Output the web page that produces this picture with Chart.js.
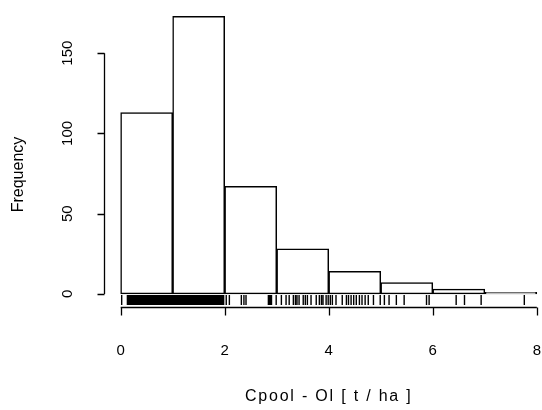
<!DOCTYPE html>
<html>
<head>
<meta charset="utf-8">
<script src="https://cdn.jsdelivr.net/npm/chart.js@4/dist/chart.umd.min.js"></script>
<style>
  html, body { margin:0; padding:0; background:#fff; }
  #wrap { width:542px; height:410px; }
</style>
</head>
<body>
<div id="wrap"><canvas id="hist" width="542" height="410"></canvas></div>
<script>
// histogram bins (Cpool - Ol, t/ha)
const binStarts = [0, 1, 2, 3, 4, 5, 6, 7];
const binWidth = 1;
const counts = [113, 173, 67, 28, 14, 7, 3, 1];

const xTicks = [0, 2, 4, 6, 8];
const yTicks = [0, 50, 100, 150];

// rug marks
const rugValues = [
  0.02, 0.13, 0.15, 0.16, 0.18, 0.2, 0.22, 0.24, 0.25, 0.27, 0.29, 0.31, 0.33, 0.34, 0.36, 0.38,
  0.4, 0.42, 0.44, 0.45, 0.47, 0.49, 0.51, 0.53, 0.55, 0.56, 0.58, 0.6, 0.62, 0.64, 0.66, 0.67,
  0.69, 0.71, 0.73, 0.75, 0.77, 0.78, 0.8, 0.82, 0.84, 0.86, 0.88, 0.89, 0.91, 0.93, 0.95, 0.97,
  0.99, 1.0, 1.02, 1.04, 1.06, 1.08, 1.1, 1.11, 1.13, 1.15, 1.17, 1.19, 1.21, 1.22, 1.24, 1.26,
  1.28, 1.3, 1.32, 1.33, 1.35, 1.37, 1.39, 1.41, 1.43, 1.44, 1.46, 1.48, 1.5, 1.52, 1.54, 1.55,
  1.57, 1.59, 1.61, 1.63, 1.65, 1.66, 1.68, 1.7, 1.72, 1.74, 1.76, 1.77, 1.79, 1.81, 1.83, 1.85,
  1.87, 1.88, 1.9, 1.92, 1.94, 1.96, 1.98, 2.03, 2.09, 2.32, 2.37, 2.41, 2.84, 2.86, 2.88, 2.9,
  2.99, 3.09, 3.18, 3.24, 3.32, 3.36, 3.39, 3.43, 3.51, 3.55, 3.59, 3.66, 3.76, 3.82, 3.86, 3.89,
  3.95, 3.99, 4.03, 4.07, 4.14, 4.26, 4.34, 4.38, 4.43, 4.48, 4.53, 4.59, 4.64, 4.7, 4.76, 4.86,
  4.99, 5.07, 5.16, 5.3, 5.45, 5.88, 5.93, 6.45, 6.61, 6.93, 7.76
];

const xTitle = 'Cpool - Ol [ t / ha ]';
const yTitle = 'Frequency';

const FONT = '15px "Liberation Sans", Arial, sans-serif';
const TITLE_FONT = '16px "Liberation Sans", Arial, sans-serif';

// R style axes + rug, drawn with the chart's own scales
const rAxes = {
  id: 'rAxes',
  afterDraw(chart) {
    const ctx = chart.ctx;
    const xs = chart.scales.x, ys = chart.scales.y;
    const area = chart.chartArea;
    ctx.save();
    ctx.strokeStyle = '#000';
    ctx.fillStyle = '#000';

    // rug
    ctx.lineWidth = 1.4;
    ctx.beginPath();
    rugValues.forEach(v => {
      const px = xs.getPixelForValue(v);
      ctx.moveTo(px, area.bottom);
      ctx.lineTo(px, area.bottom - 10);
    });
    ctx.stroke();

    ctx.lineWidth = 1.3;
    // y axis
    const yl = Math.round(area.left) + 0.5;
    ctx.beginPath();
    ctx.moveTo(yl, ys.getPixelForValue(yTicks[0]));
    ctx.lineTo(yl, ys.getPixelForValue(yTicks[yTicks.length - 1]));
    yTicks.forEach(t => {
      const py = Math.round(ys.getPixelForValue(t)) + 0.5;
      ctx.moveTo(yl, py);
      ctx.lineTo(yl - 7, py);
    });
    ctx.stroke();
    ctx.font = FONT;
    ctx.textAlign = 'center';
    ctx.textBaseline = 'middle';
    yTicks.forEach(t => {
      ctx.save();
      ctx.translate(68, ys.getPixelForValue(t));
      ctx.rotate(-Math.PI / 2);
      ctx.fillText(String(t), 0, 0);
      ctx.restore();
    });
    ctx.font = TITLE_FONT;
    ctx.save();
    ctx.translate(19, (ys.getPixelForValue(0) + ys.getPixelForValue(150)) / 2 + 1);
    ctx.rotate(-Math.PI / 2);
    ctx.fillText(yTitle, 0, 0);
    ctx.restore();

    // x axis
    const xl = area.bottom + 2.5;
    ctx.beginPath();
    ctx.moveTo(xs.getPixelForValue(xTicks[0]), xl);
    ctx.lineTo(xs.getPixelForValue(xTicks[xTicks.length - 1]), xl);
    xTicks.forEach(t => {
      const px = Math.round(xs.getPixelForValue(t)) + 0.5;
      ctx.moveTo(px, xl);
      ctx.lineTo(px, xl + 8);
    });
    ctx.stroke();
    ctx.font = FONT;
    xTicks.forEach(t => {
      ctx.fillText(String(t), xs.getPixelForValue(t), 351);
    });
    ctx.font = TITLE_FONT;
    ctx.letterSpacing = '1.8px';
    ctx.fillText(xTitle, (xs.getPixelForValue(0) + xs.getPixelForValue(8)) / 2, 397);
    ctx.restore();
  }
};

new Chart(document.getElementById('hist'), {
  type: 'bar',
  data: {
    datasets: [{
      data: binStarts.map((b, i) => ({ x: b + binWidth / 2, y: counts[i] })),
      backgroundColor: '#fff',
      borderColor: '#000',
      borderWidth: 1.5,
      borderSkipped: false,
      barPercentage: 1,
      categoryPercentage: 1
    }]
  },
  options: {
    responsive: false,
    animation: false,
    layout: { padding: { left: 104, right: 0, top: 5, bottom: 105 } },
    plugins: { legend: { display: false }, tooltip: { enabled: false } },
    scales: {
      x: { type: 'linear', min: -0.32, max: 8.1, display: false, offset: false },
      y: { min: -6.92, max: 180, display: false }
    }
  },
  plugins: [rAxes]
});
</script>
</body>
</html>
